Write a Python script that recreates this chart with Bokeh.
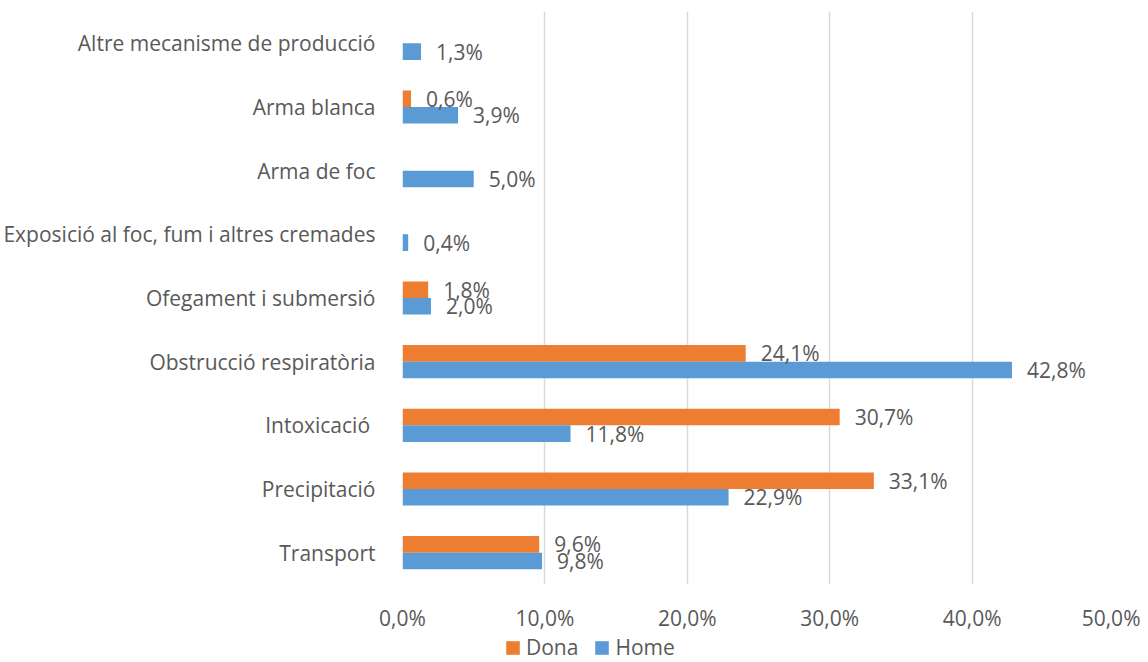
from bokeh.plotting import figure
from bokeh.layouts import column
from bokeh.models import FactorRange, Range1d, ColumnDataSource, Legend, LegendItem, FixedTicker
from bokeh.transform import dodge
from bokeh.core.properties import value
from bokeh.embed import file_html
from bokeh.resources import INLINE

# Data (top-to-bottom order as in the reference)
categories = [
    "Altre mecanisme de producció",
    "Arma blanca",
    "Arma de foc",
    "Exposició al foc, fum i altres cremades",
    "Ofegament i submersió",
    "Obstrucció respiratòria",
    "Intoxicació ",
    "Precipitació",
    "Transport",
]
home = [1.3, 3.9, 5.0, 0.4, 2.0, 42.8, 11.8, 22.9, 9.8]
dona = [None, 0.6, None, None, 1.8, 24.1, 30.7, 33.1, 9.6]
x_ticks = [0, 10, 20, 30, 40, 50]
x_tick_labels = ["0,0%", "10,0%", "20,0%", "30,0%", "40,0%", "50,0%"]
series_names = ["Dona", "Home"]

ORANGE = "#ED7D31"
BLUE = "#5B9BD5"
TXT = "#595959"
FONT = "Open Sans"
FS = "21px"

def fmt(v):
    return ("%.1f" % v).replace(".", ",") + "%"

home_src = ColumnDataSource(dict(cat=categories, v=home, lbl=[fmt(v) for v in home]))
d_cats = [c for c, v in zip(categories, dona) if v is not None]
d_vals = [v for v in dona if v is not None]
dona_src = ColumnDataSource(dict(cat=d_cats, v=d_vals, lbl=[fmt(v) for v in d_vals]))

W = 1140
H1 = 634
p = figure(
    width=W, height=H1,
    y_range=FactorRange(factors=list(reversed(categories)), range_padding=0),
    x_range=Range1d(0, 50),
    output_backend="svg", toolbar_location=None,
    min_border_left=402, min_border_right=W - 1114, min_border_top=11, min_border_bottom=30,
)
p.outline_line_color = None
p.background_fill_color = "white"
p.border_fill_color = "white"

BH = 0.26
p.hbar(y=dodge("cat", BH / 2, range=p.y_range), right="v", left=0, height=BH,
       source=dona_src, fill_color=ORANGE, line_color=None)
p.hbar(y=dodge("cat", -BH / 2, range=p.y_range), right="v", left=0, height=BH,
       source=home_src, fill_color=BLUE, line_color=None)

for src, off in ((dona_src, BH / 2), (home_src, -BH / 2)):
    p.text(x="v", y=dodge("cat", off, range=p.y_range), text="lbl", source=src,
           x_offset=15, text_align="left", text_baseline="middle",
           text_font=value(FONT), text_font_size=FS, text_color=TXT)

# x axis
p.xaxis.ticker = FixedTicker(ticks=x_ticks)
p.xaxis.major_label_overrides = {t: l for t, l in zip(x_ticks, x_tick_labels)}
p.xaxis.axis_line_color = None
p.xaxis.major_tick_line_color = None
p.xaxis.minor_tick_line_color = None
p.xaxis.major_label_standoff = 13
p.xaxis.major_label_text_font = FONT
p.xaxis.major_label_text_font_size = FS
p.xaxis.major_label_text_color = TXT

# y axis
p.yaxis.axis_line_color = None
p.yaxis.major_tick_line_color = None
p.yaxis.minor_tick_line_color = None
p.yaxis.major_label_standoff = 21
p.yaxis.major_label_text_font = FONT
p.yaxis.major_label_text_font_size = FS
p.yaxis.major_label_text_color = TXT

p.xgrid.grid_line_color = "#D9D9D9"
p.xgrid.grid_line_width = 1.5
p.ygrid.grid_line_color = None

# Legend strip below the chart (zero-width proxy bars only feed the legend)
H2 = 662 - 1 - H1
q = figure(width=W, height=H2, x_range=Range1d(0, 1), y_range=Range1d(0, 1),
           output_backend="svg", toolbar_location=None,
           min_border_left=0, min_border_right=0, min_border_top=0, min_border_bottom=0)
q.axis.visible = False
q.grid.visible = False
q.outline_line_color = None
q.border_fill_color = "white"
rd = q.hbar(y="y", left=0, right="x", height=0.0, source=ColumnDataSource(dict(x=[0], y=[0])),
            fill_color=ORANGE, line_color=None)
rh = q.hbar(y="y", left=0, right="x", height=0.0, source=ColumnDataSource(dict(x=[0], y=[0])),
            fill_color=BLUE, line_color=None)
legend = Legend(
    items=[LegendItem(label=series_names[0], renderers=[rd]), LegendItem(label=series_names[1], renderers=[rh])],
    orientation="horizontal", location=(102, 0),
    padding=0, margin=0, spacing=15,
    glyph_width=17, glyph_height=17, label_standoff=5, label_height=14,
    label_text_font=FONT, label_text_font_size=FS, label_text_color=TXT,
    label_text_line_height=0.9,
    border_line_color=None, background_fill_alpha=0,
)
q.add_layout(legend, "center")

layout = column(p, q, spacing=0)
open("out.html", "w").write(file_html(layout, INLINE))
